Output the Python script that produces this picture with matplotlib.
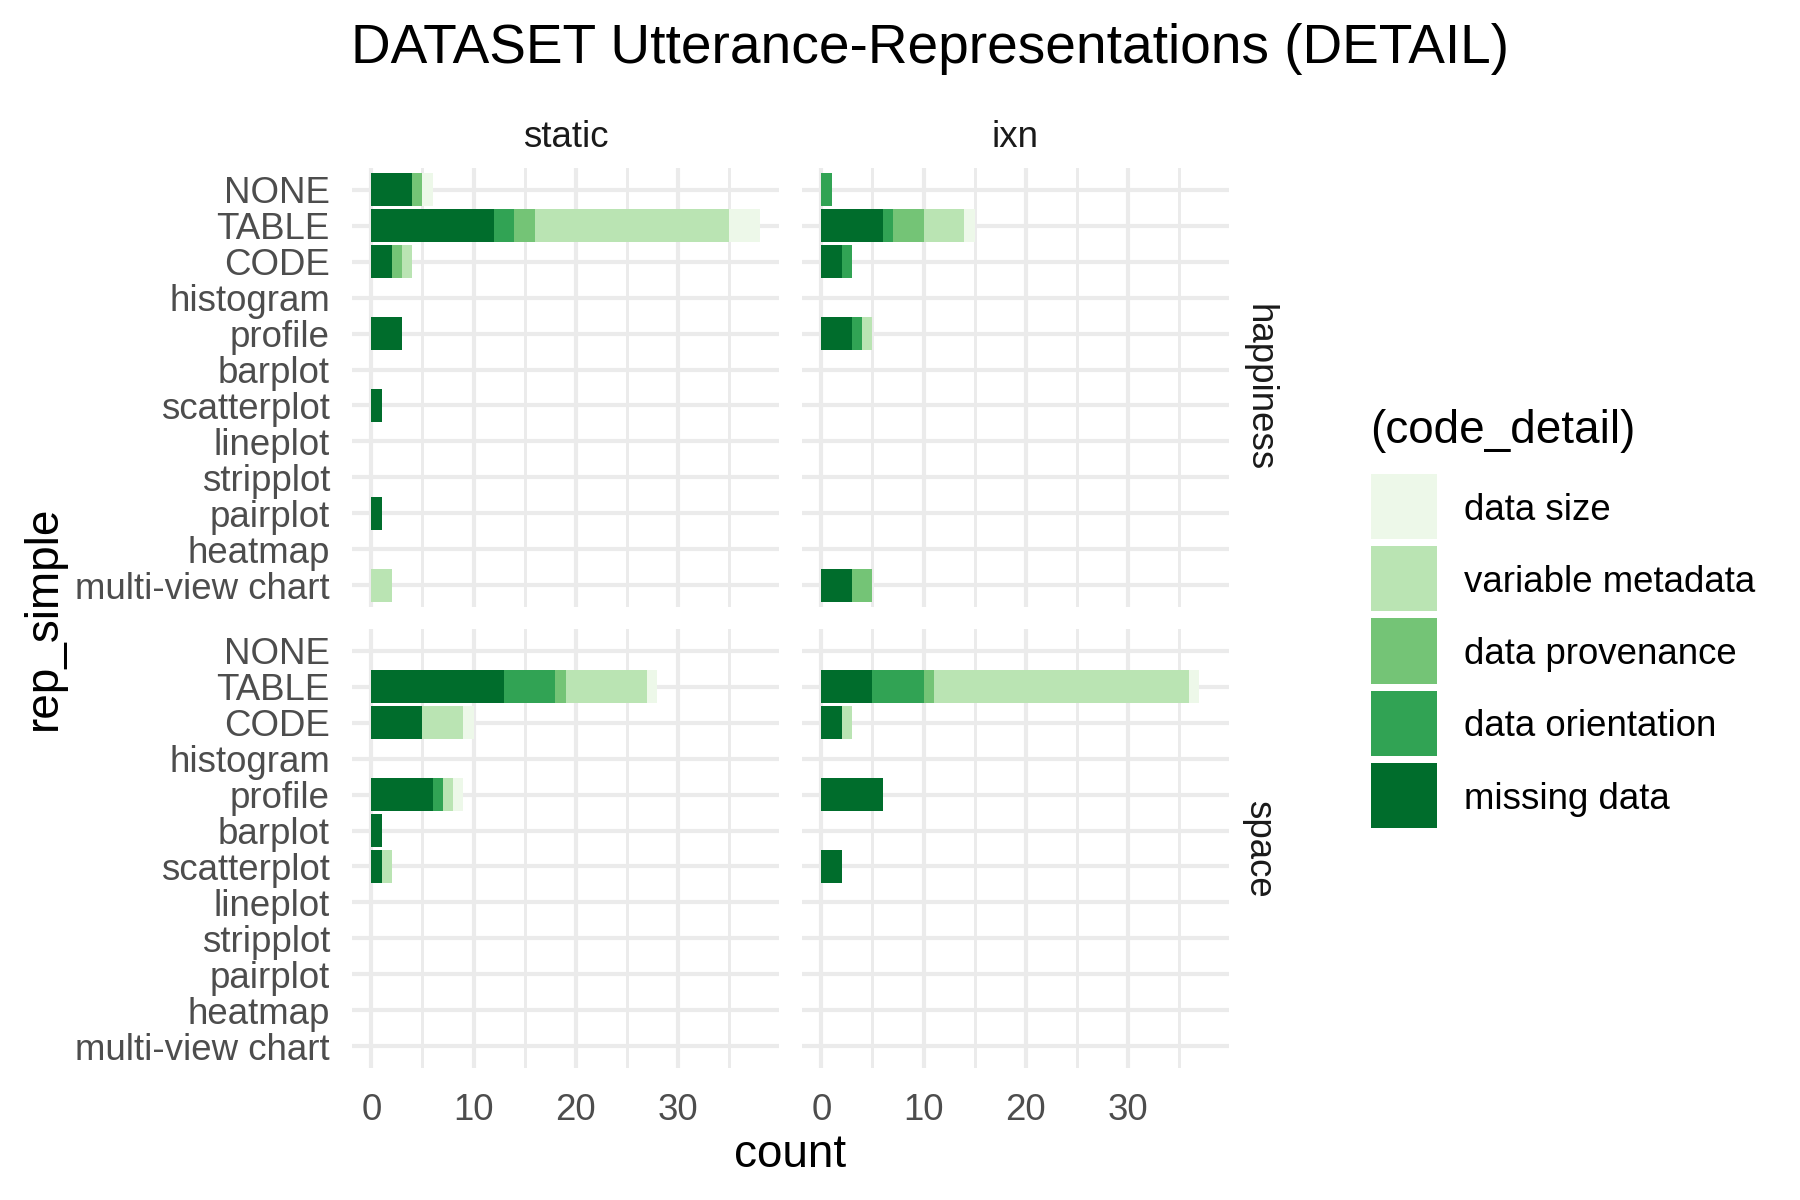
import numpy as np
import matplotlib
matplotlib.use("Agg")
import matplotlib.pyplot as plt

plt.rcParams['font.family'] = ['Liberation Sans', 'DejaVu Sans']

# categories, top to bottom
reps = ['NONE', 'TABLE', 'CODE', 'histogram', 'profile', 'barplot',
        'scatterplot', 'lineplot', 'stripplot', 'pairplot', 'heatmap',
        'multi-view chart']
codes = ['missing data', 'data orientation', 'data provenance',
         'variable metadata', 'data size']
colors = ['#006D2C', '#31A354', '#74C476', '#BAE4B3', '#EDF8E9']

# counts per code, in the order of reps
happiness_static = {
    'missing data':      [4, 12, 2, 0, 3, 0, 1, 0, 0, 1, 0, 0],
    'data orientation':  [0, 2, 0, 0, 0, 0, 0, 0, 0, 0, 0, 0],
    'data provenance':   [1, 2, 1, 0, 0, 0, 0, 0, 0, 0, 0, 0],
    'variable metadata': [0, 19, 1, 0, 0, 0, 0, 0, 0, 0, 0, 2],
    'data size':         [1, 3, 0, 0, 0, 0, 0, 0, 0, 0, 0, 0],
}
happiness_ixn = {
    'missing data':      [0, 6, 2, 0, 3, 0, 0, 0, 0, 0, 0, 3],
    'data orientation':  [1, 1, 1, 0, 1, 0, 0, 0, 0, 0, 0, 0],
    'data provenance':   [0, 3, 0, 0, 0, 0, 0, 0, 0, 0, 0, 2],
    'variable metadata': [0, 4, 0, 0, 1, 0, 0, 0, 0, 0, 0, 0],
    'data size':         [0, 1, 0, 0, 0, 0, 0, 0, 0, 0, 0, 0],
}
space_static = {
    'missing data':      [0, 13, 5, 0, 6, 1, 1, 0, 0, 0, 0, 0],
    'data orientation':  [0, 5, 0, 0, 1, 0, 0, 0, 0, 0, 0, 0],
    'data provenance':   [0, 1, 0, 0, 0, 0, 0, 0, 0, 0, 0, 0],
    'variable metadata': [0, 8, 4, 0, 1, 0, 1, 0, 0, 0, 0, 0],
    'data size':         [0, 1, 1, 0, 1, 0, 0, 0, 0, 0, 0, 0],
}
space_ixn = {
    'missing data':      [0, 5, 2, 0, 6, 0, 2, 0, 0, 0, 0, 0],
    'data orientation':  [0, 5, 0, 0, 0, 0, 0, 0, 0, 0, 0, 0],
    'data provenance':   [0, 1, 0, 0, 0, 0, 0, 0, 0, 0, 0, 0],
    'variable metadata': [0, 25, 1, 0, 0, 0, 0, 0, 0, 0, 0, 0],
    'data size':         [0, 1, 0, 0, 0, 0, 0, 0, 0, 0, 0, 0],
}

cols = ['static', 'ixn']
rows = ['happiness', 'space']
panels = [[happiness_static, happiness_ixn], [space_static, space_ixn]]

fig = plt.figure(figsize=(6, 4), dpi=300)

# panel geometry (figure fractions)
lefts = [352 / 1800, 802 / 1800]
width = 427 / 1800
bottoms = [1 - 607 / 1200, 1 - 1068 / 1200]
height = 439 / 1200

grid_col = '#EBEBEB'
y = np.arange(len(reps))

# shared x range, ggplot-like 5% expansion
xmax = max(np.sum([d[c] for c in codes], axis=0).max()
           for r in panels for d in r)
pad = 0.05 * xmax

for i, rname in enumerate(rows):
    for j, cname in enumerate(cols):
        ax = fig.add_axes([lefts[j], bottoms[i], width, height])
        data = panels[i][j]
        left = np.zeros(len(reps))
        for code, col in zip(codes, colors):
            vals = np.array(data[code], dtype=float)
            ax.barh(y, vals, left=left, height=0.9, color=col,
                    linewidth=0, zorder=3)
            left += vals

        ax.set_xlim(-pad, xmax + pad)
        ax.set_ylim(len(reps) - 1 + 0.6, -0.6)
        ax.set_xticks([0, 10, 20, 30])
        ax.set_xticks([5, 15, 25, 35], minor=True)
        ax.set_yticks(y)
        ax.grid(which='major', color=grid_col, linewidth=1.0, zorder=0)
        ax.grid(which='minor', axis='x', color=grid_col, linewidth=0.7,
                zorder=0)
        for s in ax.spines.values():
            s.set_visible(False)
        ax.tick_params(which='both', length=0)
        ax.tick_params(axis='y', pad=5.3, labelsize=8.8, labelcolor='#4D4D4D')
        ax.tick_params(axis='x', pad=6, labelsize=8.8, labelcolor='#4D4D4D')

        if j == 0:
            ax.set_yticklabels(reps)
        else:
            ax.set_yticklabels([])
        if i == 0:
            ax.set_xticklabels([])
            ax.set_title(cname, fontsize=8.8, color='#1A1A1A', pad=5)
        if j == 1:
            ax.text(1.07, 0.5, rname, transform=ax.transAxes, rotation=-90,
                    ha='center', va='center', fontsize=8.8, color='#1A1A1A')

fig.text(930 / 1800, 1 - 63 / 1200, 'DATASET Utterance-Representations (DETAIL)',
         ha='center', va='baseline', fontsize=13.2)
fig.text(790 / 1800, 1 - 1167 / 1200, 'count', ha='center', va='baseline',
         fontsize=11)
fig.text(44 / 1800, 1 - 618 / 1200, 'rep_simple', ha='center', va='center',
         rotation=90, fontsize=11)

# legend drawn by hand, ggplot style (big square keys, lightest on top)
leg_codes = codes[::-1]
leg_colors = colors[::-1]
n = len(leg_codes)
key_frac = 65 / 72
lax = fig.add_axes([1371 / 1800, 1 - 828 / 1200, 66 / 1800, 354 / 1200])
lax.barh(np.arange(n), 1, height=key_frac, color=leg_colors, linewidth=0)
lax.set_xlim(0, 1)
lax.set_ylim(n - 1 + key_frac / 2, -key_frac / 2)
lax.axis('off')
for k, lab in enumerate(leg_codes):
    lax.text(93 / 66, k + 0.05, lab, ha='left', va='center', fontsize=8.8)
fig.text(1370 / 1800, 1 - 443 / 1200, '(code_detail)', ha='left',
         va='baseline', fontsize=11)

fig.savefig('out.png', dpi=300, facecolor='white')
